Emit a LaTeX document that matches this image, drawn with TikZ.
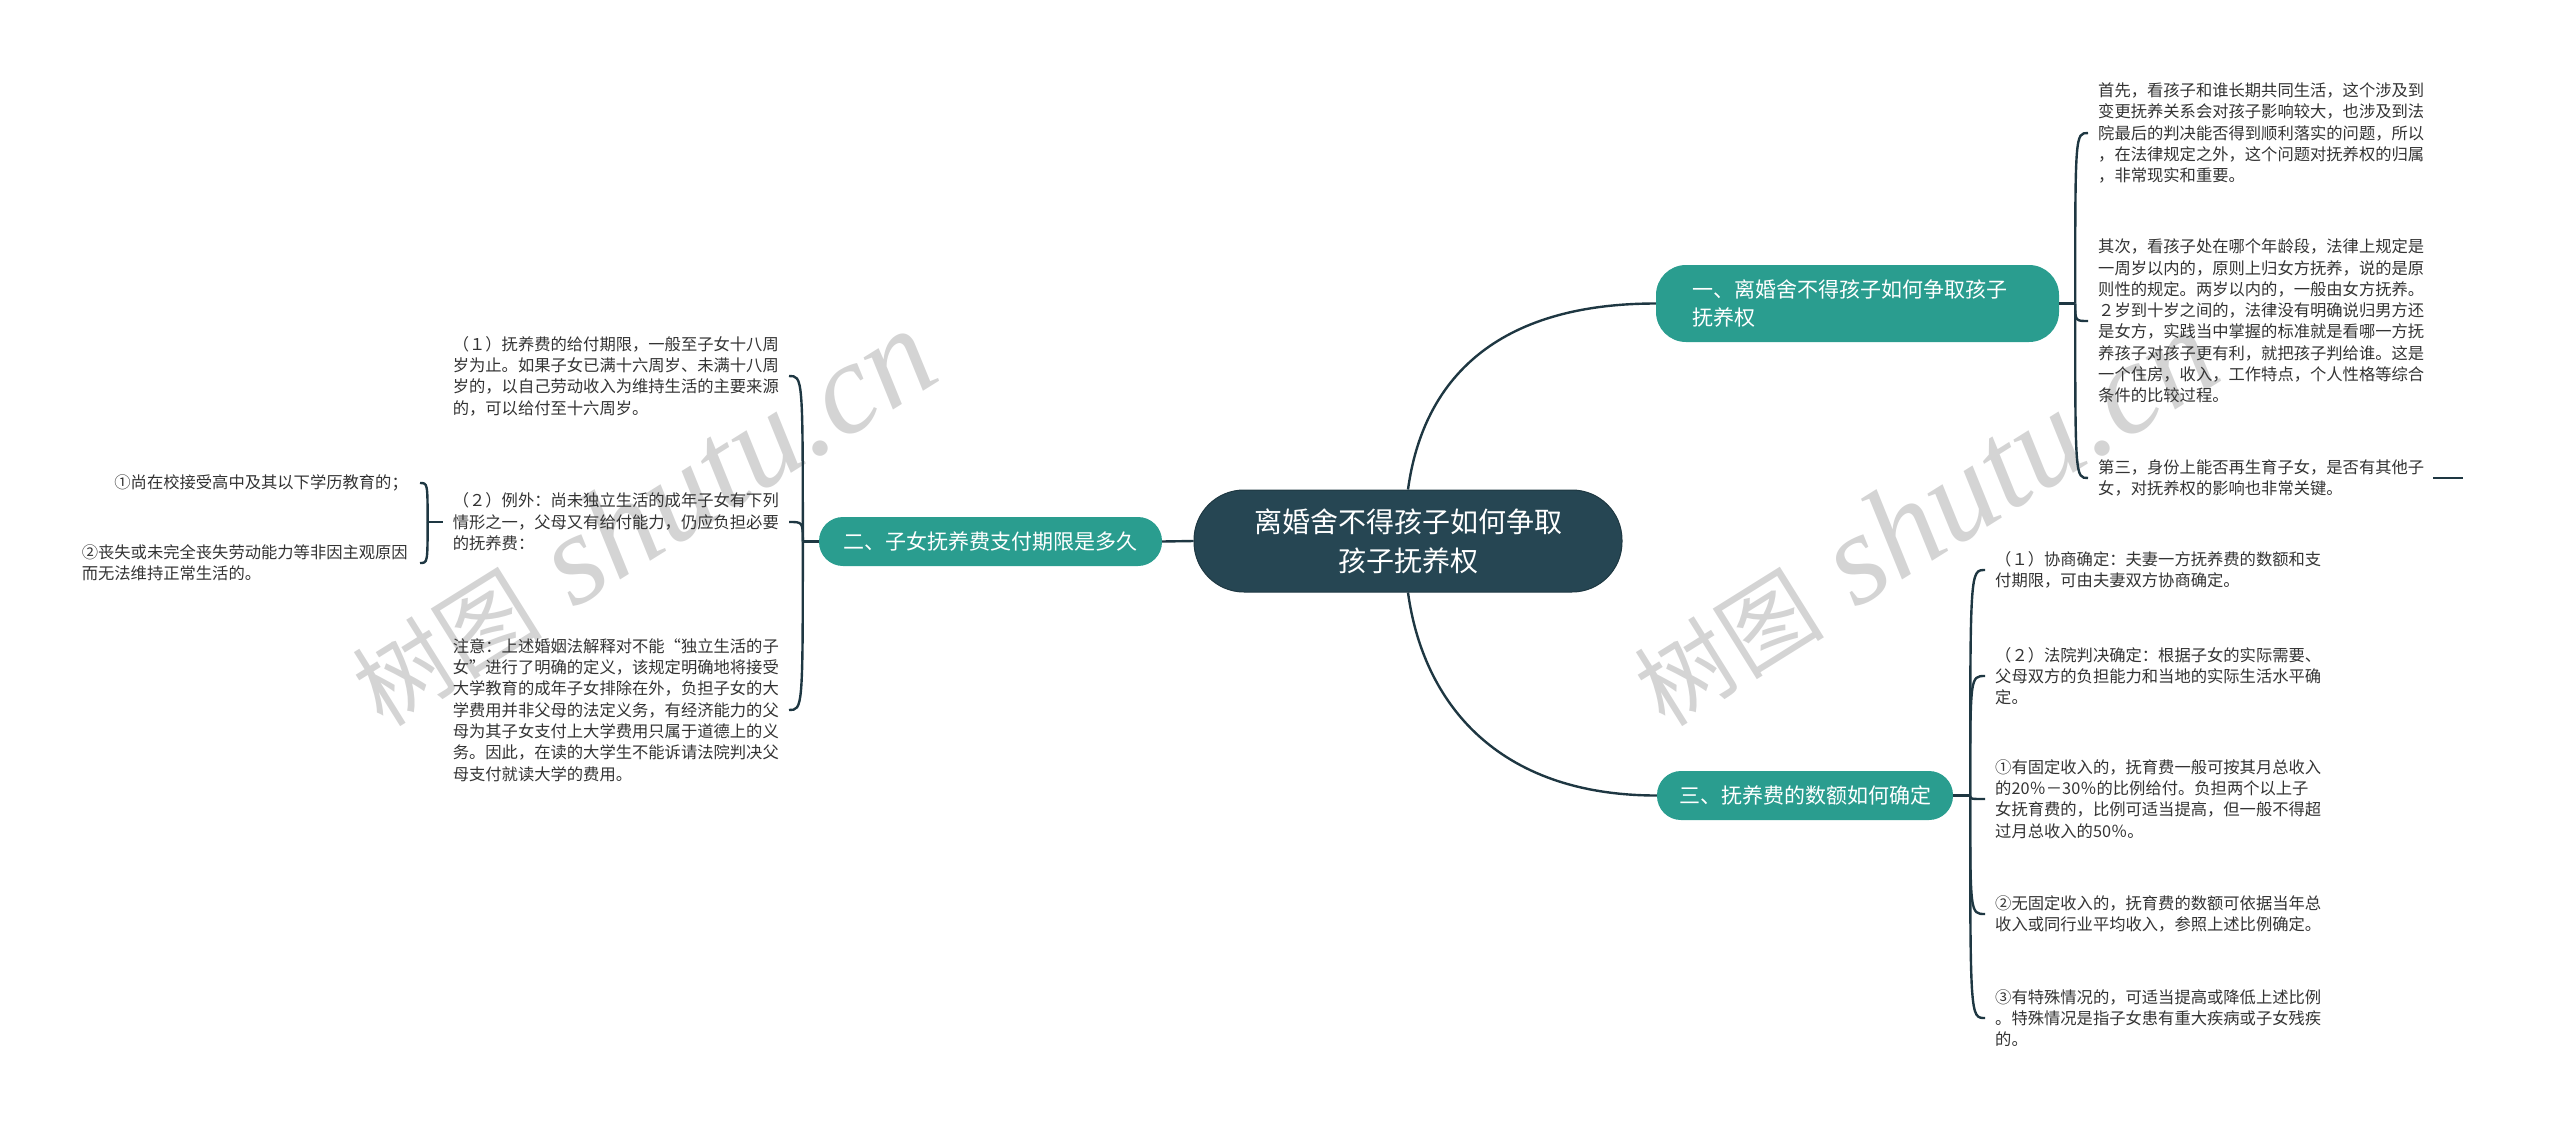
\documentclass[tikz,border=0pt]{standalone}
\usepackage{fontspec}
\newfontfamily\cjk{Noto Sans CJK SC}
\newfontfamily\wmfont{Liberation Serif}
\definecolor{rootfill}{RGB}{38,70,83}
\definecolor{branchfill}{RGB}{42,157,143}
\definecolor{linkcol}{RGB}{30,55,66}
\definecolor{leaftext}{RGB}{51,51,51}
\definecolor{markgray}{RGB}{212,212,212}

\begin{document}
\begin{tikzpicture}[x=1pt, y=-1pt,
    link/.style={draw=linkcol, line width=2.4pt},
    rootbox/.style={fill=rootfill, draw=rootfill!80!black, line width=1pt, rounded corners=50pt, text=white,
      font=\cjk\fontsize{28}{39}\selectfont, align=center, minimum width=428pt, minimum height=102pt, inner sep=0pt},
    topic/.style={fill=branchfill, text=white, font=\cjk\fontsize{21}{28}\selectfont, rounded corners=24pt,
      minimum height=49pt, inner sep=0pt},
    leaf/.style={text=leaftext, font=\cjk\fontsize{16.3}{21.3}\selectfont, align=left, inner sep=0pt},
    wmark/.style={text=markgray, rotate=32, inner sep=0pt}]
    \useasboundingbox (0,0) rectangle (2560,1128);

    \node[wmark] (w1) at (642,518) {{\cjk\fontsize{95}{95}\selectfont 树图}\hspace{34pt}{\wmfont\itshape\fontsize{130}{130}\selectfont shutu.cn}};
    \node[wmark] (w2) at (1924,518) {{\cjk\fontsize{95}{95}\selectfont 树图}\hspace{34pt}{\wmfont\itshape\fontsize{130}{130}\selectfont shutu.cn}};

    \node[rootbox] (root) at (1408,541) {离婚舍不得孩子如何争取\\孩子抚养权};
    \node[topic, text width=330pt, inner xsep=36.5pt, align=left, rounded corners=30pt, minimum height=77pt] (b1) at (1857.5,303.5) {一、离婚舍不得孩子如何争取孩子\\抚养权};
    \node[topic, minimum width=343pt] (b2) at (990.5,541.5) {二、子女抚养费支付期限是多久};
    \node[topic, minimum width=296pt] (b3) at (1805,795.5) {三、抚养费的数额如何确定};

    \node[leaf, anchor=west] (k1) at (2098,133) {首先，看孩子和谁长期共同生活，这个涉及到\\变更抚养关系会对孩子影响较大，也涉及到法\\院最后的判决能否得到顺利落实的问题，所以\\，在法律规定之外，这个问题对抚养权的归属\\，非常现实和重要。};
    \node[leaf, anchor=west] (k2) at (2098,321) {其次，看孩子处在哪个年龄段，法律上规定是\\一周岁以内的，原则上归女方抚养，说的是原\\则性的规定。两岁以内的，一般由女方抚养。\\２岁到十岁之间的，法律没有明确说归男方还\\是女方，实践当中掌握的标准就是看哪一方抚\\养孩子对孩子更有利，就把孩子判给谁。这是\\一个住房，收入，工作特点，个人性格等综合\\条件的比较过程。};
    \node[leaf, anchor=west] (k3) at (2098,478) {第三，身份上能否再生育子女，是否有其他子\\女，对抚养权的影响也非常关键。};

    \node[leaf, anchor=east] (k4) at (779,376) {（１）抚养费的给付期限，一般至子女十八周\\岁为止。如果子女已满十六周岁、未满十八周\\岁的，以自己劳动收入为维持生活的主要来源\\的，可以给付至十六周岁。};
    \node[leaf, anchor=east] (k5) at (779,522) {（２）例外：尚未独立生活的成年子女有下列\\情形之一，父母又有给付能力，仍应负担必要\\的抚养费：};
    \node[leaf, anchor=east] (k6) at (779,710) {注意：上述婚姻法解释对不能“独立生活的子\\女”进行了明确的定义，该规定明确地将接受\\大学教育的成年子女排除在外，负担子女的大\\学费用并非父母的法定义务，有经济能力的父\\母为其子女支付上大学费用只属于道德上的义\\务。因此，在读的大学生不能诉请法院判决父\\母支付就读大学的费用。};
    \node[leaf, anchor=east] (k7) at (408,483) {①尚在校接受高中及其以下学历教育的；};
    \node[leaf, anchor=east] (k8) at (408,563) {②丧失或未完全丧失劳动能力等非因主观原因\\而无法维持正常生活的。};

    \node[leaf, anchor=west] (k9) at (1995,570) {（１）协商确定：夫妻一方抚养费的数额和支\\付期限，可由夫妻双方协商确定。};
    \node[leaf, anchor=west] (k10) at (1995,676) {（２）法院判决确定：根据子女的实际需要、\\父母双方的负担能力和当地的实际生活水平确\\定。};
    \node[leaf, anchor=west] (k11) at (1995,799) {①有固定收入的，抚育费一般可按其月总收入\\的20％－30％的比例给付。负担两个以上子\\女抚育费的，比例可适当提高，但一般不得超\\过月总收入的50％。};
    \node[leaf, anchor=west] (k12) at (1995,914) {②无固定收入的，抚育费的数额可依据当年总\\收入或同行业平均收入，参照上述比例确定。};
    \node[leaf, anchor=west] (k13) at (1995,1018) {③有特殊情况的，可适当提高或降低上述比例\\。特殊情况是指子女患有重大疾病或子女残疾\\的。};

    \coordinate (s1) at ([xshift=16pt]b1.east);
    \coordinate (s2) at ([xshift=-16pt]b2.west);
    \coordinate (s3) at ([xshift=17pt]b3.east);
    \coordinate (s4) at ([xshift=-25pt]k5.west);

    \draw[link] (root.north) .. controls +(15,-110) and +(-160,0) .. (b1.west);
    \draw[link] (root.south) .. controls +(15,110) and +(-160,0) .. (b3.west);
    \draw[link] (root.west) -- (b2.east);

    \draw[link] (b1.east) -- (s1);
    \draw[link] (s1) .. controls (s1 |- k1.west) .. ([xshift=-10pt]k1.west);
    \draw[link] (s1) .. controls (s1 |- k2.west) .. ([xshift=-10pt]k2.west);
    \draw[link] (s1) .. controls (s1 |- k3.west) .. ([xshift=-10pt]k3.west);
    \draw[link] ([xshift=9pt]k3.east) -- ++(30,0);

    \draw[link] (b2.west) -- (s2);
    \draw[link] (s2) .. controls (s2 |- k4.east) .. ([xshift=10pt]k4.east);
    \draw[link] (s2) .. controls (s2 |- k5.east) .. ([xshift=10pt]k5.east);
    \draw[link] (s2) .. controls (s2 |- k6.east) .. ([xshift=10pt]k6.east);
    \draw[link] ([xshift=-10pt]k5.west) -- (s4);
    \draw[link] (s4) .. controls (s4 |- k7.east) .. ([xshift=12pt]k7.east);
    \draw[link] (s4) .. controls (s4 |- k8.east) .. ([xshift=12pt]k8.east);

    \draw[link] (b3.east) -- (s3);
    \draw[link] (s3) .. controls (s3 |- k9.west) .. ([xshift=-10pt]k9.west);
    \draw[link] (s3) .. controls (s3 |- k10.west) .. ([xshift=-10pt]k10.west);
    \draw[link] (s3) .. controls (s3 |- k11.west) .. ([xshift=-10pt]k11.west);
    \draw[link] (s3) .. controls (s3 |- k12.west) .. ([xshift=-10pt]k12.west);
    \draw[link] (s3) .. controls (s3 |- k13.west) .. ([xshift=-10pt]k13.west);
\end{tikzpicture}
\end{document}
